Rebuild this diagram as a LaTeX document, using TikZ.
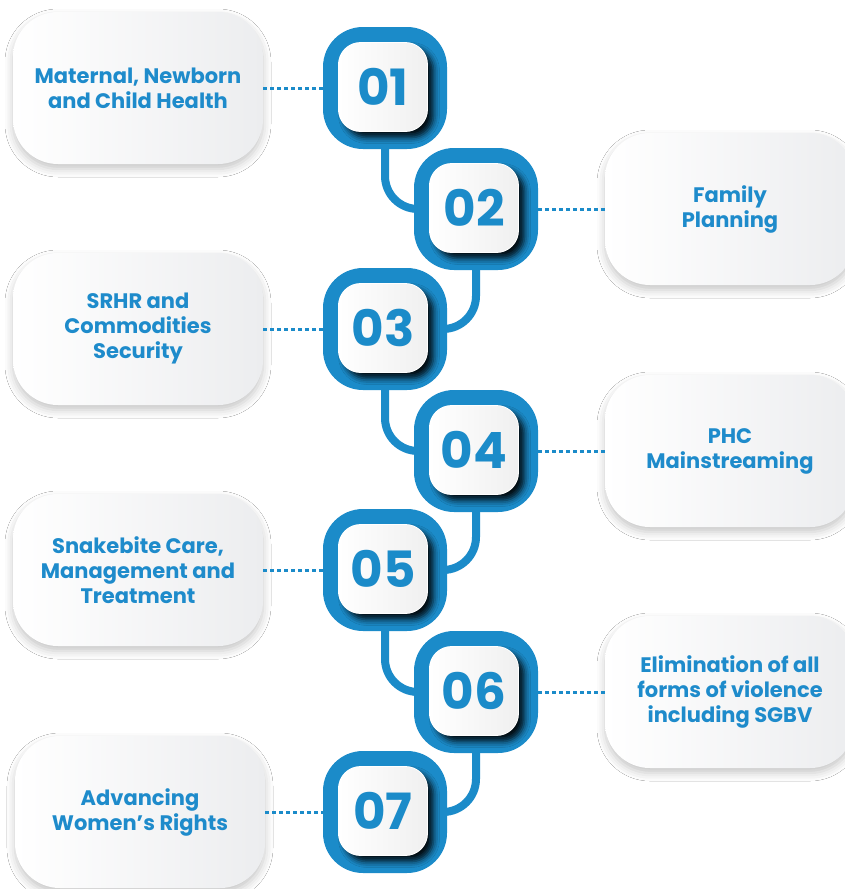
\documentclass[tikz,border=0pt]{standalone}
\usepackage{fontspec}
\setmainfont{Poppins}
\usetikzlibrary{shadows.blur,backgrounds}
\definecolor{ringblue}{HTML}{1B8BC9}
\definecolor{textblue}{HTML}{1E8BCB}
\definecolor{boxgray}{HTML}{ECEDEF}
\tikzset{
  topic/.style={rounded corners=45pt, minimum width=250pt, minimum height=152pt,
    left color=white, right color=boxgray, text=textblue, align=center,
    font=\fontsize{21}{25}\selectfont\bfseries,
    blur shadow={shadow xshift=0pt, shadow yshift=-5pt, shadow blur radius=8pt, shadow opacity=22}},
  ring/.style={rounded corners=40pt, minimum width=124pt, minimum height=122pt, fill=ringblue},
  knob/.style={rounded corners=22pt, minimum size=89pt, left color=white, right color=gray!12,
    draw=white, line width=.8pt, text=ringblue, font=\fontsize{50}{50}\selectfont\bfseries,
    blur shadow={shadow xshift=6pt, shadow yshift=-6pt, shadow blur radius=6pt, shadow opacity=90}},
  link/.style={ringblue, line width=8pt, rounded corners=33pt},
  dots/.style={ringblue, line width=3pt, dash pattern=on 3.5pt off 3.5pt}
}
\begin{document}
\begin{tikzpicture}[x=1pt, y=-1pt]
\useasboundingbox (0,0) rectangle (845,889);

% number badges
\foreach \n/\x/\y in {1/385/88, 2/476/209, 3/385/329, 4/476/451, 5/385/570, 6/476/692, 7/385/812} {
  \node[ring] (b\n) at (\x,\y) {};
  \node[knob] (k\n) at ([shift={(-2,-1)}]b\n) {0\n};
}

% topics
\node[topic] (t1) at (138,88) {Maternal, Newborn\\and Child Health};
\node[topic] (t2) at (730,209) {Family\\Planning};
\node[topic] (t3) at (138,329) {SRHR and\\Commodities\\Security};
\node[topic] (t4) at (730,451) {PHC\\Mainstreaming};
\node[topic] (t5) at (138,570) {Snakebite Care,\\Management and\\Treatment};
\node[topic] (t6) at (730,692) {Elimination of all\\forms of violence\\including SGBV};
\node[topic] (t7) at (140,812) {Advancing\\Women’s Rights};

\draw[dots] (t1.east) -- (b1.west);
\draw[dots] (b2.east) -- (t2.west);
\draw[dots] (t3.east) -- (b3.west);
\draw[dots] (b4.east) -- (t4.west);
\draw[dots] (t5.east) -- (b5.west);
\draw[dots] (b6.east) -- (t6.west);
\draw[dots] (t7.east) -- (b7.west);

\begin{scope}[on background layer]
\fill[white] (0,0) rectangle (845,889);
\draw[link] (b1.south) |- (b2.west);
\draw[link] (b2.south) |- (b3.east);
\draw[link] (b3.south) |- (b4.west);
\draw[link] (b4.south) |- (b5.east);
\draw[link] (b5.south) |- (b6.west);
\draw[link] (b6.south) |- (b7.east);
\end{scope}
\end{tikzpicture}
\end{document}
